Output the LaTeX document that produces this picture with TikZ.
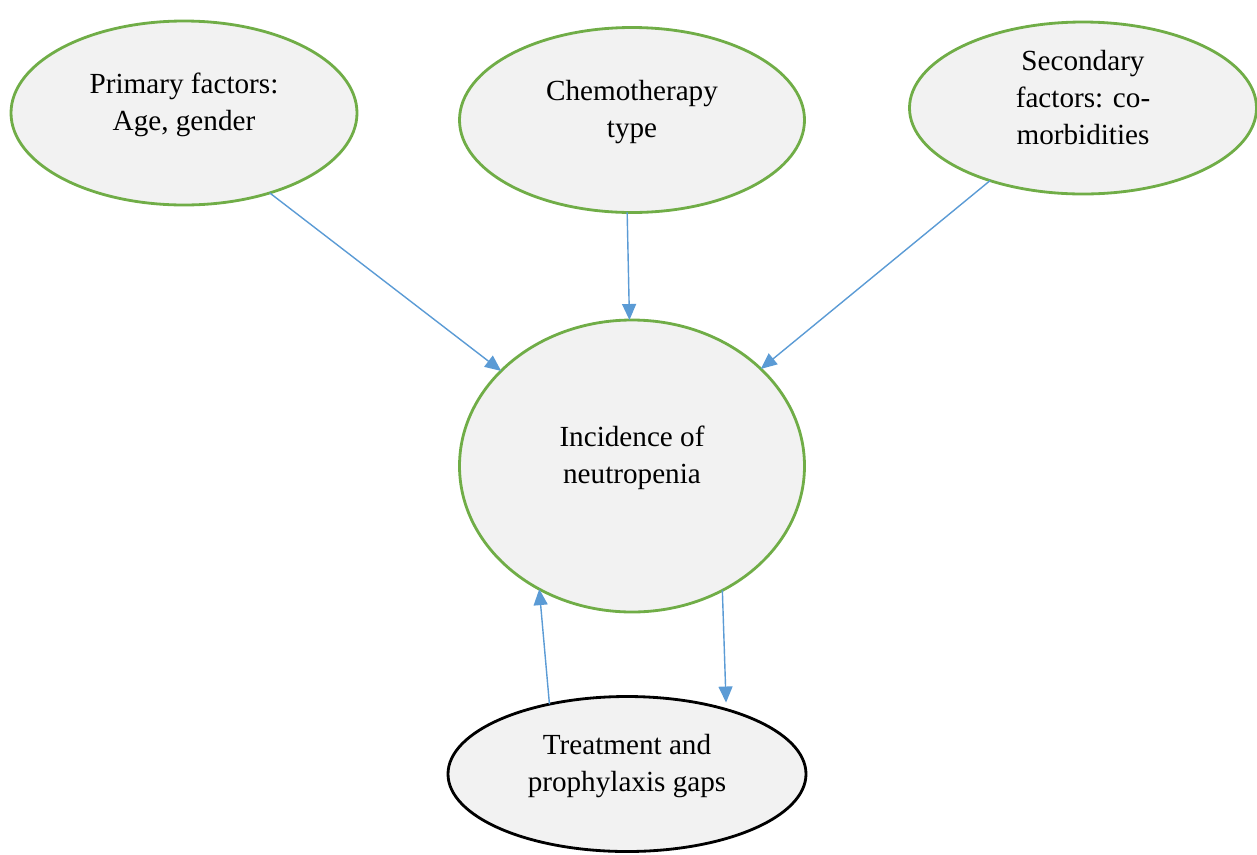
\documentclass[tikz,border=0pt]{standalone}
\usepackage{fontspec}
\setmainfont{Liberation Serif}
\usepackage{tikz}
\usetikzlibrary{arrows.meta,shapes.geometric}
\definecolor{leafgreen}{HTML}{70AD47}
\definecolor{skyblue}{HTML}{5B9BD5}
\definecolor{palegray}{HTML}{F2F2F2}
\begin{document}
\begin{tikzpicture}
% Node styles ---
\tikzstyle{fac} = [ellipse, line width = 1.6pt, draw = leafgreen, fill = palegray, inner sep = 0pt, outer sep = 0pt, align = center, text depth = 12.5pt, font = \fontsize{16.6}{21}\selectfont] % Factors
\tikzstyle{gap} = [fac, draw = black] % Gaps
% Edge styles
\tikzstyle{con} = [-{Triangle[length = 0.32cm, width = 0.28cm]}, draw = skyblue, line width = 0.8pt] % Effects
% Begin Figure ---
\useasboundingbox (0,0) rectangle (25.14,-17.08);
% Nodes
\node at (+3.68,-2.26) [fac, minimum width = 6.92cm, minimum height = 3.68cm] (prim) {Primary factors:\\Age, gender};
\node at (+12.64,-2.40) [fac, minimum width = 6.90cm, minimum height = 3.70cm] (chemo) {Chemotherapy\\type};
\node at (+21.66,-2.16) [fac, minimum width = 6.94cm, minimum height = 3.44cm] (sec) {Secondary\\factors: co-\\morbidities};
\node at (+12.64,-9.32) [fac, minimum width = 6.90cm, minimum height = 5.84cm] (inc) {Incidence of\\neutropenia};
\node at (+12.54,-15.48) [gap, minimum width = 7.16cm, minimum height = 3.10cm] (treat) {Treatment and\\prophylaxis gaps};
% Paths
\path (prim.-43) edge [con] (inc.144);
\path (chemo.-93) edge [con] (inc.91);
\path (sec.-142) edge [con] (inc.37);
\path (treat.138) edge [con] (inc.-127);
\path (inc.-54) edge [con, shorten > = 0.14cm] (treat.33);
\end{tikzpicture}
\end{document}
